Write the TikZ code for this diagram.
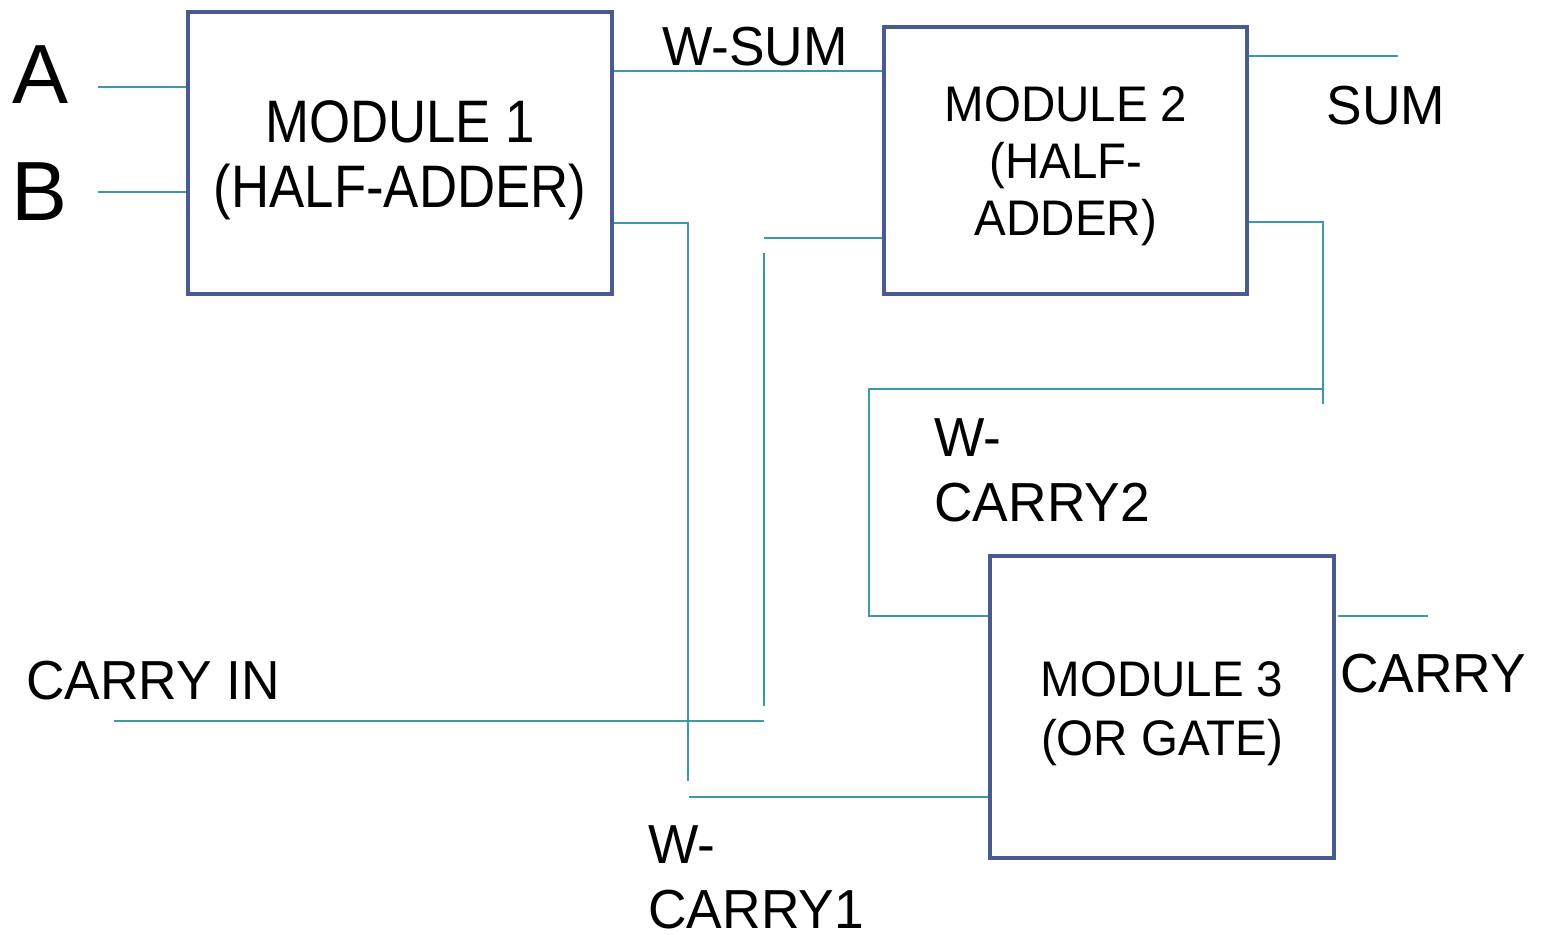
\documentclass[tikz,border=0pt]{standalone}
\usepackage{fontspec}
\setmainfont{Liberation Sans}
\newfontfamily\narrowA[FakeStretch=0.88]{Liberation Sans}
\newfontfamily\narrowB[FakeStretch=0.95]{Liberation Sans}
\newfontfamily\narrowC[FakeStretch=0.97]{Liberation Sans}
\definecolor{boxblue}{HTML}{4A5B8F}
\definecolor{wireteal}{HTML}{3F98AA}
\begin{document}
\begin{tikzpicture}[x=0.5pt,y=-0.5pt,
  modbox/.style={draw=boxblue,line width=2pt,fill=white,rectangle,inner sep=0pt},
  modtext/.style={inner sep=0pt,align=center},
  wire/.style={draw=wireteal,line width=1pt},
  lbl/.style={inner sep=0pt,font=\narrowC\fontsize{27.5}{32.5}\selectfont},
  big/.style={inner sep=0pt,font=\fontsize{42}{46}\selectfont}]
\useasboundingbox (0,0) rectangle (1543,934);
% boxes
\node[modbox,minimum width=212pt,minimum height=141pt] (m1) at (400,153) {};
\node[modbox,minimum width=181.5pt,minimum height=133.5pt] (m2) at (1065.5,160.5) {};
\node[modbox,minimum width=172pt,minimum height=151pt] (m3) at (1162,707) {};
\node[modtext,font=\narrowA\fontsize{30}{32.5}\selectfont] (t1) at (400,160) {MODULE 1\\(HALF-ADDER)};
\node[modtext,font=\narrowB\fontsize{25}{28.5}\selectfont] (t2) at (1066,166) {MODULE 2\\(HALF-\\ADDER)};
\node[modtext,font=\narrowB\fontsize{25}{29.5}\selectfont] (t3) at (1162,714) {MODULE 3\\(OR GATE)};
% labels
\node[big] (la) at (41,75) {A};
\node[big] (lb) at (40,192) {B};
\node[lbl] (lws) at (755,47) {W-SUM};
\node[lbl] (lsum) at (1386,106) {SUM};
\node[lbl,align=left,anchor=west] (lwc2) at (934,470) {W-\\CARRY2};
\node[lbl] (lcarry) at (1433,674) {CARRY};
\node[lbl] (lci) at (153,681) {CARRY IN};
\node[lbl,align=left,anchor=west] (lwc1) at (648,877) {W-\\CARRY1};
% coordinates
\coordinate (aL) at (98,87);
\coordinate (bL) at (98,192);
\coordinate (ws) at (700,71);
\coordinate (c1a) at (688,223);
\coordinate (c1b) at (688,781);
\coordinate (m2in) at (764,238);
\coordinate (v1) at (764,253);
\coordinate (v2) at (764,706);
\coordinate (ci1) at (114,721);
\coordinate (ci2) at (764,721);
\coordinate (wc1) at (689,797);
\coordinate (sumR) at (1398,56);
\coordinate (c2a) at (1323,222);
\coordinate (c2b) at (1323,404);
\coordinate (wc2a) at (1323,389);
\coordinate (wc2b) at (869,389);
\coordinate (wc2c) at (869,616);
\coordinate (co1) at (1338,616);
\coordinate (co2) at (1428,616);
% wires
\draw[wire] (aL) -- (aL -| m1.west);
\draw[wire] (bL) -- (bL -| m1.west);
\draw[wire] (ws -| m1.east) -- (ws -| m2.west);
\draw[wire] (c1a -| m1.east) -- (c1a) -- (c1b);
\draw[wire] (m2in) -- (m2in -| m2.west);
\draw[wire] (v1) -- (v2);
\draw[wire] (ci1) -- (ci2);
\draw[wire] (wc1) -- (wc1 -| m3.west);
\draw[wire] (sumR -| m2.east) -- (sumR);
\draw[wire] (c2a -| m2.east) -- (c2a) -- (c2b);
\draw[wire] (wc2a) -- (wc2b) -- (wc2c) -- (wc2c -| m3.west);
\draw[wire] (co1) -- (co2);
\end{tikzpicture}
\end{document}
